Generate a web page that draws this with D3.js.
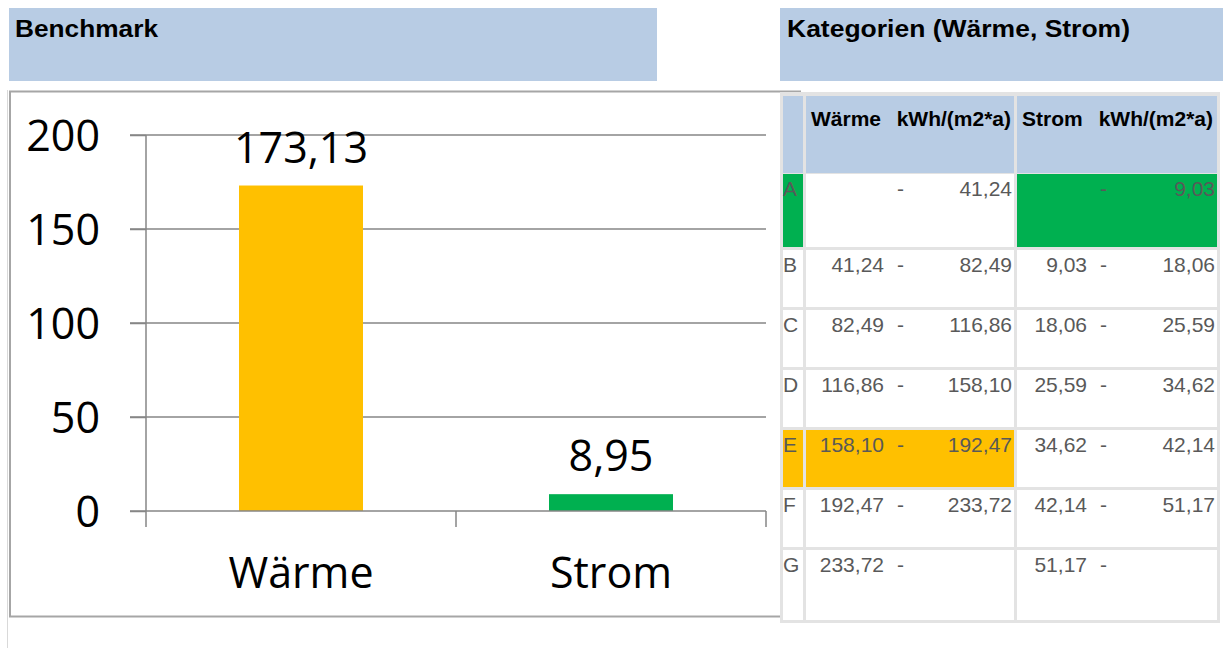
<!DOCTYPE html>
<html>
<head>
<meta charset="utf-8">
<script src="https://cdn.jsdelivr.net/npm/d3@7"></script>
<style>
  html, body { margin: 0; padding: 0; background: #fff; }
  svg { display: block; }
</style>
</head>
<body>
<div id="chart"></div>
<script>
// Chart data
const categories = ['Wärme', 'Strom'];
const values = [173.13, 8.95];
const barColors = ['#ffc000', '#00b050'];
const yTicks = [0, 50, 100, 150, 200];

// Table data (class limits in kWh/(m2*a))
const classes = ['A', 'B', 'C', 'D', 'E', 'F', 'G'];
const waermeBounds = [41.24, 82.49, 116.86, 158.10, 192.47, 233.72];
const stromBounds = [9.03, 18.06, 25.59, 34.62, 42.14, 51.17];

const W = 1223, H = 648;
const blue = '#b8cce4';
const de = d3.formatLocale({ decimal: ',', thousands: '.', grouping: [3], currency: ['', '€'] });
const fmt = de.format('.2f');
const fmtTick = de.format('d');

const svg = d3.select('#chart').append('svg')
    .attr('width', W)
    .attr('height', H);

const tableFont = '"Liberation Sans", Arial, sans-serif';

// Title boxes
svg.append('rect').attr('x', 9).attr('y', 8).attr('width', 648).attr('height', 73).attr('fill', blue);
svg.append('rect').attr('x', 780).attr('y', 8).attr('width', 443).attr('height', 73).attr('fill', blue);
svg.append('text').attr('x', 15).attr('y', 37)
    .style('font', 'bold 24px ' + tableFont)
    .attr('textLength', 143).attr('lengthAdjust', 'spacingAndGlyphs')
    .text('Benchmark');
svg.append('text').attr('x', 787).attr('y', 37)
    .style('font', 'bold 24px ' + tableFont)
    .attr('textLength', 343).attr('lengthAdjust', 'spacingAndGlyphs')
    .text('Kategorien (Wärme, Strom)');

// Sheet border line + chart frame
svg.append('line').attr('x1', 7.5).attr('x2', 7.5).attr('y1', 90).attr('y2', H)
    .attr('stroke', '#d9d9d9').attr('stroke-width', 1);
svg.append('rect').attr('x', 10).attr('y', 91.5).attr('width', 790).attr('height', 525)
    .attr('fill', '#fff').attr('stroke', '#a6a6a6').attr('stroke-width', 2);

// Scales
const x = d3.scaleBand().domain(categories).range([146, 766]).paddingInner(0.6).paddingOuter(0.3);
const xTickScale = d3.scaleBand().domain(categories).range([146, 766]);
const y = d3.scaleLinear().domain([0, 200]).range([511, 135]);

const axisColor = '#868686';
const chartFont = '"Open Sans", "Noto Sans", sans-serif';

// Gridlines
svg.append('g').selectAll('line')
    .data(yTicks.filter(d => d > 0))
    .join('line')
    .attr('x1', 130).attr('x2', 766)
    .attr('y1', d => y(d)).attr('y2', d => y(d))
    .attr('stroke', axisColor).attr('stroke-width', 1.5);

// Y axis
const yAxis = svg.append('g')
    .attr('transform', 'translate(146,0)')
    .call(d3.axisLeft(y).tickValues(yTicks).tickSize(16).tickPadding(30).tickFormat(fmtTick));
yAxis.select('.domain').remove();
yAxis.selectAll('.tick line').attr('stroke', axisColor).attr('stroke-width', 1.5);
yAxis.selectAll('.tick text')
    .style('font-family', chartFont).style('font-size', '43px').attr('fill', '#000')
    .attr('dy', '0.36em');
svg.append('line').attr('x1', 146).attr('x2', 146).attr('y1', y(200)).attr('y2', 527)
    .attr('stroke', axisColor).attr('stroke-width', 1.5);

// Bars
svg.append('g').selectAll('rect')
    .data(values)
    .join('rect')
    .attr('x', (d, i) => x(categories[i]))
    .attr('width', x.bandwidth())
    .attr('y', d => y(d))
    .attr('height', d => y(0) - y(d))
    .attr('fill', (d, i) => barColors[i]);

// X axis
svg.append('line').attr('x1', 130).attr('x2', 766).attr('y1', y(0)).attr('y2', y(0))
    .attr('stroke', axisColor).attr('stroke-width', 1.5);
const tickXs = categories.map(c => xTickScale(c) + xTickScale.bandwidth());
svg.append('g').selectAll('line')
    .data(tickXs)
    .join('line')
    .attr('x1', d => d).attr('x2', d => d)
    .attr('y1', y(0)).attr('y2', 527)
    .attr('stroke', axisColor).attr('stroke-width', 1.5);
svg.append('g').selectAll('text')
    .data(categories)
    .join('text')
    .attr('x', d => x(d) + x.bandwidth() / 2)
    .attr('y', 588)
    .attr('text-anchor', 'middle')
    .style('font-family', chartFont).style('font-size', '43px')
    .text(d => d);

// Value labels
svg.append('g').selectAll('text')
    .data(values)
    .join('text')
    .attr('x', (d, i) => x(categories[i]) + x.bandwidth() / 2)
    .attr('y', d => y(d) - 23)
    .attr('text-anchor', 'middle')
    .style('font-family', chartFont).style('font-size', '43px')
    .text(d => fmt(d));

// Table
svg.append('rect').attr('x', 780).attr('y', 92).attr('width', 440).attr('height', 531).attr('fill', '#e3e3e3');
const cellLayer = svg.append('g');

const cols = {
    letter: [783, 803],
    waerme: [806, 1014],
    strom: [1017, 1217]
};

// Header row
const headTop = 96, headH = 77;
Object.values(cols).forEach(c => {
    cellLayer.append('rect').attr('x', c[0]).attr('y', headTop).attr('width', c[1] - c[0]).attr('height', headH).attr('fill', blue);
});
const head = svg.append('g').style('font', 'bold 21px ' + tableFont);
head.append('text').attr('x', 811).attr('y', 126).text('Wärme');
head.append('text').attr('x', 1011).attr('y', 126).attr('text-anchor', 'end').text('kWh/(m2*a)');
head.append('text').attr('x', 1022).attr('y', 126).text('Strom');
head.append('text').attr('x', 1213).attr('y', 126).attr('text-anchor', 'end').text('kWh/(m2*a)');

// Which class each value falls in
function classOf(v, bounds) {
    const idx = bounds.findIndex(b => v < b);
    return idx === -1 ? bounds.length : idx;
}
const waermeClass = classOf(values[0], waermeBounds);
const stromClass = classOf(values[1], stromBounds);

const rowH = [73, 57, 57, 57, 57, 57, 70];
const rowTops = [];
rowH.reduce((top, h) => { rowTops.push(top); return top + h + 3; }, 174);

const textColor = '#595959';
const rows = svg.append('g').style('font', '21px ' + tableFont).attr('fill', textColor);

classes.forEach((cls, i) => {
    const top = rowTops[i], h = rowH[i];
    const base = top + 22;
    let letterFill = '#fff';
    if (i === waermeClass) letterFill = barColors[0];
    if (i === stromClass) letterFill = barColors[1];

    cellLayer.append('rect').attr('x', cols.letter[0]).attr('y', top)
        .attr('width', cols.letter[1] - cols.letter[0]).attr('height', h).attr('fill', letterFill);
    cellLayer.append('rect').attr('x', cols.waerme[0]).attr('y', top)
        .attr('width', cols.waerme[1] - cols.waerme[0]).attr('height', h)
        .attr('fill', i === waermeClass ? barColors[0] : '#fff');
    cellLayer.append('rect').attr('x', cols.strom[0]).attr('y', top)
        .attr('width', cols.strom[1] - cols.strom[0]).attr('height', h)
        .attr('fill', i === stromClass ? barColors[1] : '#fff');

    rows.append('text').attr('x', 783).attr('y', base).text(cls);

    const wLo = i > 0 ? waermeBounds[i - 1] : null;
    const wHi = i < waermeBounds.length ? waermeBounds[i] : null;
    const sLo = i > 0 ? stromBounds[i - 1] : null;
    const sHi = i < stromBounds.length ? stromBounds[i] : null;

    if (wLo !== null) rows.append('text').attr('x', 884).attr('y', base).attr('text-anchor', 'end').text(fmt(wLo));
    rows.append('text').attr('x', 897).attr('y', base).text('-');
    if (wHi !== null) rows.append('text').attr('x', 1012).attr('y', base).attr('text-anchor', 'end').text(fmt(wHi));

    if (sLo !== null) rows.append('text').attr('x', 1087).attr('y', base).attr('text-anchor', 'end').text(fmt(sLo));
    rows.append('text').attr('x', 1100).attr('y', base).text('-');
    if (sHi !== null) rows.append('text').attr('x', 1215).attr('y', base).attr('text-anchor', 'end').text(fmt(sHi));
});
</script>
</body>
</html>
